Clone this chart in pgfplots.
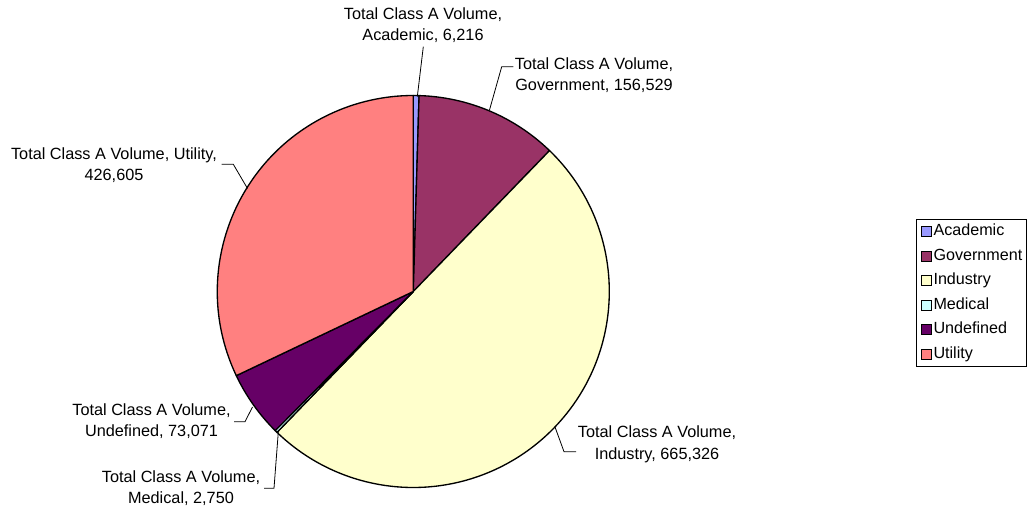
\documentclass[border=0pt]{standalone}
\usepackage{fontspec}
\setmainfont{Liberation Sans}
\usepackage{pgfplots}
\pgfplotsset{compat=1.18}
\usepackage{pgfplotstable}
\definecolor{cAcad}{HTML}{9999FF}
\definecolor{cGov}{HTML}{993366}
\definecolor{cInd}{HTML}{FFFFCC}
\definecolor{cMed}{HTML}{CCFFFF}
\definecolor{cUnd}{HTML}{660066}
\definecolor{cUtil}{HTML}{FF8080}

\pgfplotstableread{
name value
Academic 6216
Government 156529
Industry 665326
Medical 2750
Undefined 73071
Utility 426605
}\piedata

\pgfplotstablegetelem{0}{value}\of\piedata \edef\vA{\pgfplotsretval}
\pgfplotstablegetelem{1}{value}\of\piedata \edef\vB{\pgfplotsretval}
\pgfplotstablegetelem{2}{value}\of\piedata \edef\vC{\pgfplotsretval}
\pgfplotstablegetelem{3}{value}\of\piedata \edef\vD{\pgfplotsretval}
\pgfplotstablegetelem{4}{value}\of\piedata \edef\vE{\pgfplotsretval}
\pgfplotstablegetelem{5}{value}\of\piedata \edef\vF{\pgfplotsretval}
\edef\tot{\fpeval{\vA+\vB+\vC+\vD+\vE+\vF}}
\edef\aA{90}
\edef\aB{\fpeval{90-360*(\vA)/\tot}}
\edef\aC{\fpeval{90-360*(\vA+\vB)/\tot}}
\edef\aD{\fpeval{90-360*(\vA+\vB+\vC)/\tot}}
\edef\aE{\fpeval{90-360*(\vA+\vB+\vC+\vD)/\tot}}
\edef\aF{\fpeval{90-360*(\vA+\vB+\vC+\vD+\vE)/\tot}}
\edef\aG{-270}

\newcommand\slice[3]{\filldraw[fill=#3,draw=black,line width=1pt,line join=round]
  (axis cs:413.3,218.5) -- ++(#1:147pt) arc[start angle=#1,end angle=#2,radius=147pt] -- cycle;}
\newcommand\lbl{\fontsize{12.2}{16.2}\selectfont}
\newcommand\lgd{\fontsize{12.1}{14}\selectfont}

\begin{document}
\begin{tikzpicture}
\begin{axis}[
  scale only axis, width=770.25pt, height=382.5pt,
  xmin=0, xmax=1027, ymin=0, ymax=510,
  axis lines=none, clip=false,
  legend image code/.code={\draw[#1,line width=0.75pt] (0pt,-3.75pt) rectangle (7.5pt,3.75pt);},
  legend style={at={(axis cs:916,291)}, anchor=north west, draw=black, line width=0.75pt,
    font=\lgd, inner xsep=3pt, inner ysep=1.5pt, row sep=3.4pt, column sep=1pt,
    cells={anchor=west}, nodes={inner xsep=0.5pt, inner ysep=1.5pt, text height=9pt, text depth=3pt}},
]
\slice{\aA}{\aB}{cAcad}
\slice{\aB}{\aC}{cGov}
\slice{\aC}{\aD}{cInd}
\slice{\aD}{\aE}{cMed}
\slice{\aE}{\aF}{cUnd}
\slice{\aF}{\aG}{cUtil}

\addlegendimage{fill=cAcad,draw=black}\addlegendentry{Academic}
\addlegendimage{fill=cGov,draw=black}\addlegendentry{Government}
\addlegendimage{fill=cInd,draw=black}\addlegendentry{Industry}
\addlegendimage{fill=cMed,draw=black}\addlegendentry{Medical}
\addlegendimage{fill=cUnd,draw=black}\addlegendentry{Undefined}
\addlegendimage{fill=cUtil,draw=black}\addlegendentry{Utility}

\begin{scope}[line width=0.6pt]
\draw (axis cs:423.3,463.3) -- (axis cs:417.3,413.3);
\draw (axis cs:513.3,443.3) -- (axis cs:501.7,443.3) -- (axis cs:489.5,400);
\draw (axis cs:221.7,345.7) -- (axis cs:233.3,345.7) -- (axis cs:247.5,321.5);
\draw (axis cs:234,88.3) -- (axis cs:245,88.3) -- (axis cs:252.5,103);
\draw (axis cs:264,21.7) -- (axis cs:274,21.7) -- (axis cs:278.3,78);
\draw (axis cs:576,58.3) -- (axis cs:564,58.3) -- (axis cs:555,83);
\end{scope}

\node[align=center,font=\lbl] at (axis cs:423,485) {Total Class A Volume,\\Academic, 6,216};
\node[align=center,font=\lbl] at (axis cs:594,435) {Total Class A Volume,\\Government, 156,529};
\node[align=center,font=\lbl] at (axis cs:114,345) {Total Class A Volume, Utility,\\426,605};
\node[align=center,font=\lbl] at (axis cs:151.5,89) {Total Class A Volume,\\Undefined, 73,071};
\node[align=center,font=\lbl] at (axis cs:181,21.7) {Total Class A Volume,\\Medical, 2,750};
\node[align=center,font=\lbl] at (axis cs:657,66) {Total Class A Volume,\\Industry, 665,326};
\end{axis}
\pgfresetboundingbox
\path (current axis.south west) rectangle (current axis.north east);
\end{tikzpicture}
\end{document}
